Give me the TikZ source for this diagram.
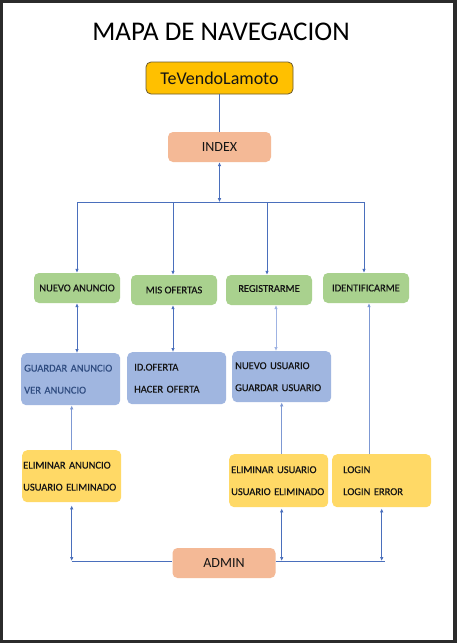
\documentclass[tikz,border=0pt]{standalone}
\usepackage{fontspec}
\setmainfont{Carlito}
\newfontfamily\boxfont{Carlito}[FakeBold=0.5]
\usetikzlibrary{positioning,arrows.meta,calc}
\definecolor{frame}{HTML}{2B2B2B}
\definecolor{rootgold}{HTML}{FFC000}
\definecolor{rootedge}{HTML}{6B5A2E}
\definecolor{salmon}{HTML}{F4B996}
\definecolor{leaf}{HTML}{A9D18E}
\definecolor{sky}{HTML}{A0B6E0}
\definecolor{sand}{HTML}{FFD966}
\definecolor{link}{HTML}{4A6FBC}
\definecolor{linklight}{HTML}{9FB3E3}
\definecolor{inkblue}{HTML}{2F4C80}
\tikzset{
  % --- boxes -------------------------------------------------------------
  base/.style    ={rounded corners=5pt, align=center, inner sep=0pt, text=black!92},
  rootbox/.style ={base, draw=rootedge, line width=0.8pt, fill=rootgold,
                   minimum width=147pt, minimum height=32pt,
                   font=\fontsize{18}{20}\selectfont},
  pagebox/.style ={base, fill=salmon, minimum width=103pt, minimum height=30pt,
                   font=\fontsize{14}{16}\selectfont},
  menubox/.style ={base, fill=leaf, minimum width=86pt, minimum height=30pt,
                   font=\boxfont\fontsize{10.5}{12}\selectfont},
  listbox/.style ={base, anchor=north west, align=left, minimum height=52pt,
                   font=\boxfont\fontsize{10.5}{22}\selectfont},
  bluebox/.style ={listbox, fill=sky},
  sandbox/.style ={listbox, fill=sand},
  % --- connectors --------------------------------------------------------
  wire/.style    ={line width=0.8pt, draw=link},
  arrow/.style   ={wire, -{Latex[length=4pt,width=3.6pt]}},
  twoway/.style  ={wire, {Latex[length=4pt,width=3.6pt]}-{Latex[length=4pt,width=3.6pt]}},
  faint/.style   ={draw=linklight},
}
\begin{document}
\begin{tikzpicture}[x=1pt,y=-1pt]

  % ============================= page =============================
  \fill[frame] (0,0) rectangle (457,643);
  \fill[white] (3,3) rectangle (453,640);
  \useasboundingbox (0,0) rectangle (457,643);

  \node (title) at (221,32) {\fontsize{27}{30}\selectfont MAPA DE NAVEGACION};

  % ============================= top =============================
  \node[rootbox] (root)  at (219.5,78)  {TeVendoLamoto};
  \node[pagebox] (index) at (219.5,147) {INDEX};

  % ============================= menu =============================
  \node[menubox] (anuncio)  at (77,288)  {NUEVO ANUNCIO};
  \node[menubox] (ofertas)  at (174,290) {MIS OFERTAS};
  \node[menubox] (registro) at (269,290) {\raisebox{3pt}{REGISTRARME}};
  \node[menubox] (identif)  at (366,288) {IDENTIFICARME};

  % ============================= pages =============================
  \node[bluebox, text width=93pt, inner xsep=3pt] (guardar) at (21,353)
    {\color{inkblue}GUARDAR ANUNCIO\\\color{inkblue}VER ANUNCIO};
  \node[bluebox, text width=85pt, inner xsep=7pt] (oferta)  at (127,352)
    {ID.OFERTA\\HACER OFERTA};
  \node[bluebox, text width=93pt, inner xsep=3pt, minimum height=51pt] (usuario) at (232,351)
    {NUEVO USUARIO\\GUARDAR USUARIO};

  \node[sandbox, text width=97pt, inner xsep=1pt] (elimA) at (22,450)
    {ELIMINAR ANUNCIO\\USUARIO ELIMINADO};
  \node[sandbox, text width=95pt, inner xsep=2pt, minimum height=53pt] (elimU) at (229,454)
    {ELIMINAR USUARIO\\USUARIO ELIMINADO};
  \node[sandbox, text width=89pt, inner xsep=5pt, minimum height=53pt] (login) at (332,454)
    {\hspace{6pt}LOGIN\\\hspace{6pt}LOGIN ERROR};

  \node[pagebox] (admin) at (224,563) {ADMIN};

  % ============================= edges =============================
  % root -> index -> menu bus
  \draw[wire] (root.south) -- (index.north);
  \coordinate (busC) at ($(index.south)+(0,40)$);
  \coordinate (busL) at (busC -| anuncio.north);
  \coordinate (busR) at ($(busC -| identif.north)+(-2,0)$);
  \draw[twoway] (index.south) -- (busC);
  \draw[wire] (busL) -- (busR);
  \draw[arrow] (busL) -- (anuncio.north);
  \draw[arrow] ($(busC -| ofertas.north)+(-1,0)$) -- ($(ofertas.north)+(-1,0)$);
  \draw[arrow] ($(busC -| registro.north)+(-2,0)$) -- ($(registro.north)+(-2,0)$);
  \draw[arrow] (busR) -- (busR |- identif.north);

  % menu <-> pages
  \draw[twoway] (anuncio.south) -- (anuncio.south |- guardar.north);
  \draw[twoway] ($(ofertas.south)+(-1,0)$) -- ($(ofertas.south |- oferta.north)+(-1,0)$);
  \draw[twoway, faint] ($(registro.south)+(7,0)$) -- ($(registro.south |- usuario.north)+(7,0)$);
  \draw[arrow, draw=linklight!60!link] ($(login.north -| identif.south)+(3,0)$) -- ($(identif.south)+(3,0)$);

  % admin pages -> pages
  \draw[arrow, draw=linklight!60!link] (elimA.north) -- (elimA.north |- guardar.south);
  \draw[arrow, draw=linklight!60!link] (usuario.south |- elimU.north) -- (usuario.south);

  % admin bus
  \coordinate (admL)  at ($(admin.west -| elimA.south)+(0,-2)$);
  \coordinate (admU)  at ($(admin.east -| usuario.south)+(0,-2)$);
  \coordinate (admG)  at ($(admin.east -| login.south)+(0,-2)$);
  \coordinate (admR)  at ($(admG)+(3,0)$);
  \draw[wire] (admL) -- (admL -| admin.west);
  \draw[wire] (admU -| admin.east) -- (admR);
  \draw[twoway] ($(elimA.south)+(0,3)$) -- (admL);
  \draw[twoway] ($(elimU.south -| usuario.south)+(0,1)$) -- (admU);
  \draw[twoway] ($(login.south)+(0,1)$) -- (admG);

\end{tikzpicture}
\end{document}
